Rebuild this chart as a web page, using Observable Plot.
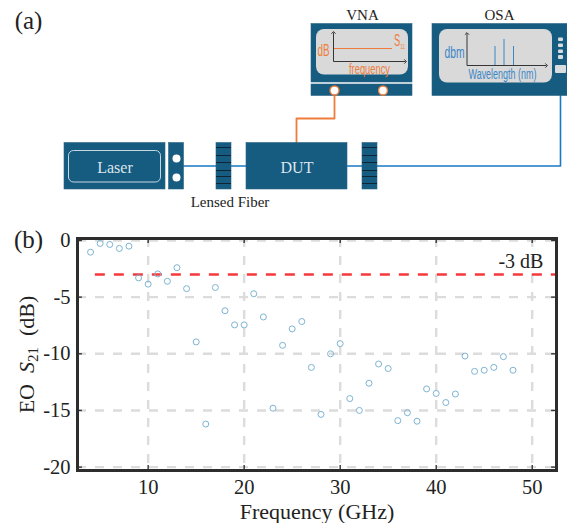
<!DOCTYPE html>
<html><head><meta charset="utf-8">
<script src="https://cdn.jsdelivr.net/npm/d3@7"></script>
<script src="https://cdn.jsdelivr.net/npm/@observablehq/plot@0.6"></script>
<style>
html,body{margin:0;padding:0;background:#fff}
svg{display:block}
</style></head><body>
<div id="a"></div><div id="b"></div>
<script>
// ---- chart data ----
const freq = [4,5,6,7,8,9,10,11,12,13,14,15,16,17,18,19,20,21,22,23,24,25,26,27,28,29,30,31,32,33,34,35,36,37,38,39,40,41,42,43,44,45,46,47,48];
const s21 = [-1.03,-0.26,-0.35,-0.7,-0.5,-3.3,-3.85,-2.95,-3.6,-2.4,-4.25,-8.95,-16.2,-4.15,-6.2,-7.45,-7.45,-4.7,-6.75,-14.8,-9.25,-7.8,-7.15,-11.2,-15.35,-10,-9.1,-13.95,-15.0,-12.6,-10.9,-11.3,-15.9,-15.2,-15.95,-13.1,-13.5,-14.3,-13.55,-10.2,-11.55,-11.45,-11.2,-10.25,-11.45];
const xTicks = [10,20,30,40,50];
const yTicks = [0,-5,-10,-15,-20];
const threshold = -3;

// ---- schematic parts ----
const navy = "#165b80", blue = "#1b78c2", orange = "#ee7d3c", serif = "'Liberation Serif',serif";
const boxes = [[64,165,142.5,189],[168.5,183.5,142.5,189],[216,231,142.5,189],[246,347,142.5,189],[362,377,142.5,189],[311,412,23.5,82],[311,412,84,95.5],[432,567,23.5,95.5]].map(([x1,x2,y1,y2])=>({x1,x2,y1,y2}));
const screens = [[316,408,29,74.5],[439,552,29,82.5]].map(([x1,x2,y1,y2])=>({x1,x2,y1,y2}));
const buttons = [[558,563,37.5,41],[558,563,43.5,47],[558,563,49.5,53],[558,563,55,59],[555,566,65,73]].map(([x1,x2,y1,y2])=>({x1,x2,y1,y2}));
const fibers = [[[183,165.5],[216,165.5]],[[231,165.5],[246,165.5]],[[347,165.5],[362,165.5]],[[377,165.5],[560,165.5],[560,73]]];
const rfCable = [[296,142.5],[296,118],[334,118],[334,94]];
const gratingLines = [147,155,162,170,176,183].flatMap(y=>[{x1:216,x2:231,y},{x1:362,x2:377,y}]);
const whitePorts = [[176,158],[176,177]];
const rfPorts = [[334,90],[382.5,90]];
const peaks = [[494.5,46],[503.5,39],[513,46]];
const axesArrows = [[333,61,333,32],[333,61,405,61],[466.5,65,466.5,33],[466.5,65,546,65]].map(([x1,y1,x2,y2])=>({x1,y1,x2,y2}));
const serifLabels = [{t:"Laser",x:114.5,y:167,s:16,c:"#dce6ec"},{t:"DUT",x:296.5,y:167,s:16,c:"#dce6ec"},{t:"Lensed Fiber",x:229.5,y:202,s:15,c:"#222"},{t:"VNA",x:362,y:15,s:15,c:"#222"},{t:"OSA",x:499,y:15,s:15,c:"#222"},{t:"(a)",x:28,y:20,s:25,c:"#222"}];
const screenLabels = [
 {t:"dB",x:323,y:50,s:17,c:orange,w:12},{t:"S11",x:399,y:40,s:16,c:orange,w:11},
 {t:"frequency",x:369,y:69,s:15,c:orange,w:41},{t:"dbm",x:454,y:52,s:16,c:"#3b86c6",w:20},{t:"Wavelength (nm)",x:502,y:74,s:14,c:"#3b86c6",w:68}];

const diagram = Plot.plot({
  width:567,height:225,margin:0,
  x:{domain:[0,567],range:[0,567],axis:null},
  y:{domain:[0,225],range:[0,225],axis:null},
  marks:[
    Plot.line(fibers[0],{x:"0",y:"1",stroke:blue,strokeWidth:1.6}),
    Plot.line(fibers[1],{x:"0",y:"1",stroke:blue,strokeWidth:1.6}),
    Plot.line(fibers[2],{x:"0",y:"1",stroke:blue,strokeWidth:1.6}),
    Plot.line(fibers[3],{x:"0",y:"1",stroke:blue,strokeWidth:1.6,curve:"linear"}),
    Plot.line(rfCable,{x:"0",y:"1",stroke:orange,strokeWidth:1.8}),
    Plot.rect(boxes,{x1:"x1",x2:"x2",y1:"y1",y2:"y2",fill:navy,stroke:"#2d6585",strokeWidth:.6}),
    Plot.ruleY(gratingLines,{x1:"x1",x2:"x2",y:"y",stroke:"#0c1f2b",strokeWidth:.9}),
    Plot.rect([{x1:68.5,x2:160.5,y1:150.5,y2:182}],{x1:"x1",x2:"x2",y1:"y1",y2:"y2",rx:5,fill:"none",stroke:"#c7d7e0",strokeWidth:1}),
    Plot.rect(screens,{x1:"x1",x2:"x2",y1:"y1",y2:"y2",rx:8,fill:"#d9d9d9"}),
    Plot.rect(buttons,{x1:"x1",x2:"x2",y1:"y1",y2:"y2",rx:1,fill:"#d9dde0"}),
    Plot.dot(whitePorts,{x:"0",y:"1",r:4,fill:"#fff"}),
    Plot.dot(rfPorts,{x:"0",y:"1",r:4.5,fill:"#fff",stroke:orange,strokeWidth:1.4}),
    Plot.link(axesArrows,{x1:"x1",y1:"y1",x2:"x2",y2:"y2",stroke:"#222",strokeWidth:.9,markerEnd:"arrow"}),
    Plot.ruleY([48],{x1:334,x2:392,stroke:orange,strokeWidth:1}),
    Plot.ruleX(peaks,{x:"0",y1:"1",y2:65,stroke:"#3b86c6",strokeWidth:1}),
    Plot.text(serifLabels,{text:"t",x:"x",y:"y",fontSize:"s",fill:"c",fontFamily:serif}),
    Plot.text(screenLabels,{text:"t",x:"x",y:"y",fontSize:"s",fill:"c",fontFamily:"'Liberation Sans',sans-serif",className:"narrow"})
  ]
});
// squeeze the screen captions to their narrow drawn width; S11 gets a small subscript
d3.select(diagram).selectAll("g.narrow text").each(function(_,i){
  const lab = screenLabels[i];
  if(!lab) return;
  if(lab.t==="S11"){
    const t=d3.select(this).text(null);
    t.append("tspan").text("S");
    t.append("tspan").attr("font-size",8).attr("dy",3).text("11");
  }
  this.setAttribute("textLength",lab.w);
  this.setAttribute("lengthAdjust","spacingAndGlyphs");
});
document.getElementById("a").append(diagram);

const chart = Plot.plot({
  width:567,height:298,marginLeft:77,marginRight:11,marginTop:13,marginBottom:53,
  style:{fontFamily:serif,color:"#222",background:"transparent"},
  x:{domain:[2.64,52.53]},
  y:{domain:[-20.3,0.176]},
  marks:[
    Plot.ruleX(xTicks,{stroke:"#dcdcdc",strokeWidth:2.4,strokeDasharray:"9,9"}),
    Plot.ruleY(yTicks,{stroke:"#dcdcdc",strokeWidth:2.4,strokeDasharray:"9,9"}),
    Plot.ruleY([threshold],{x1:4.5,x2:52.53,stroke:"#f6383d",strokeWidth:2.4,strokeDasharray:"10,9"}),
    Plot.dot(freq.map((f,i)=>({f,v:s21[i]})),{x:"f",y:"v",r:3,stroke:"#7db4d2",strokeWidth:1,fill:"none"}),
    Plot.ruleX(xTicks,{y1:-20.3,y2:-19.85,stroke:"#333",strokeWidth:1.4}),
    Plot.ruleX(xTicks,{y1:0.176,y2:-0.27,stroke:"#333",strokeWidth:1.4}),
    Plot.ruleY(yTicks,{x1:2.64,x2:3.15,stroke:"#333",strokeWidth:1.4}),
    Plot.ruleY(yTicks,{x1:52.02,x2:52.53,stroke:"#333",strokeWidth:1.4}),
    Plot.frame({stroke:"#2d2d2d",strokeWidth:3}),
    Plot.text(["-3 dB"],{x:52,y:-2.47,textAnchor:"end",lineAnchor:"bottom",fontSize:20,fill:"#222",dx:-8}),
    Plot.text(["(b)"],{x:2.64,y:0.176,dx:-49,dy:1,fontSize:25,fill:"#222"}),
    Plot.axisX({ticks:xTicks,tickSize:0,tickPadding:9,fontSize:20.5,label:"Frequency (GHz)",labelAnchor:"center",labelArrow:"none",labelOffset:48,tickFormat:d=>String(d)}),
    Plot.axisY({ticks:yTicks,tickSize:0,tickPadding:7,fontSize:20.5,label:"EO S21 (dB)",labelAnchor:"center",labelArrow:"none",labelOffset:59,tickFormat:d=>String(d)})
  ]
});
// typeset axis label: italic S with subscript 21
d3.select(chart).selectAll("text").each(function(){
  if(this.textContent==="EO S21 (dB)"){
    const t=d3.select(this).text(null);
    t.append("tspan").text("EO\u00a0\u00a0");
    t.append("tspan").attr("font-style","italic").text("S");
    t.append("tspan").attr("font-size",15).attr("dy",4).text("21");
    t.append("tspan").attr("dy",-4).text("\u00a0\u00a0(dB)");
  }
});
// enlarge axis titles
d3.select(chart).selectAll("text").each(function(){
  if(/Frequency|EO/.test(this.textContent)) this.setAttribute("font-size",22);
});
document.getElementById("b").append(chart);
</script>
</body></html>
